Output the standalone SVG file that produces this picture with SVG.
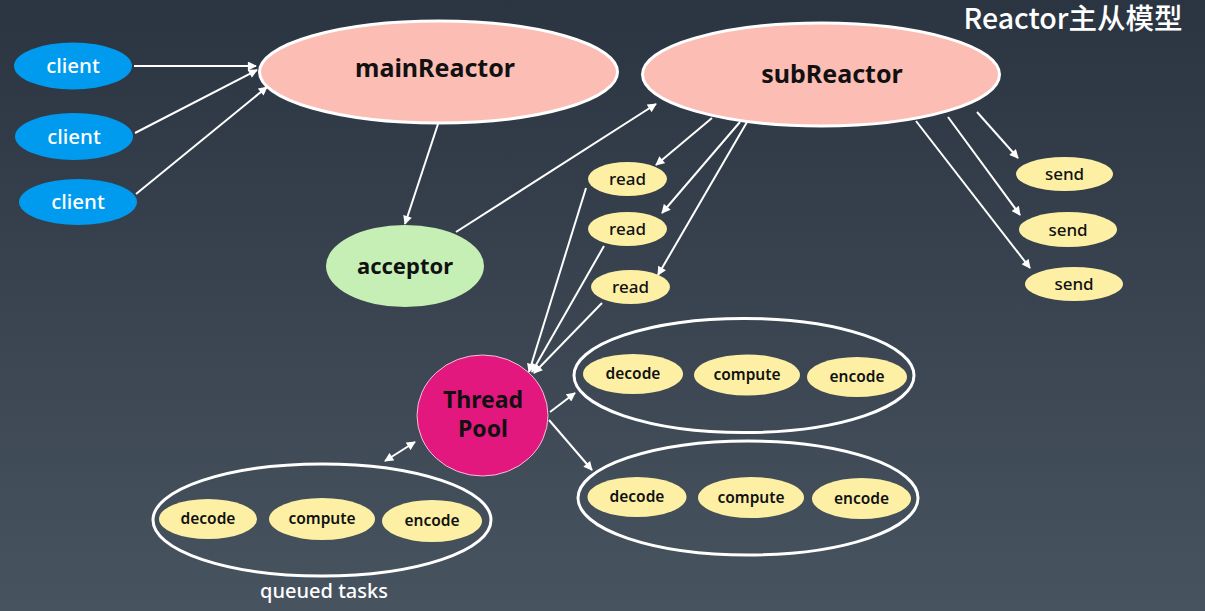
<svg xmlns="http://www.w3.org/2000/svg" width="1205" height="611" viewBox="0 0 1205 611">
<defs>
<linearGradient id="bg" x1="0" y1="0" x2="0" y2="1">
<stop offset="0" stop-color="#2b3541"/>
<stop offset="1" stop-color="#47535f"/>
</linearGradient>
<marker id="ah" viewBox="0 0 10 10" refX="9" refY="5" markerWidth="5" markerHeight="4.5" orient="auto-start-reverse" markerUnits="strokeWidth">
<path d="M0,0 L10,5 L0,10 z" fill="#ffffff"/>
</marker>
<style>
text{font-family:"Noto Sans","Open Sans","Liberation Sans",sans-serif;text-anchor:middle}
.big{font-size:25px;font-weight:700;fill:#111}
.cl{fill:#009bef}
.clt{font-size:20.5px;font-weight:500;fill:#fff}
.y{fill:#fdf0a5}
.yt{font-size:17px;font-weight:500;fill:#111}
.st{font-size:15.5px;font-weight:600;fill:#111}
.grp{fill:none;stroke:#fff;stroke-width:3}
.c line{stroke:#fff;stroke-width:2;marker-end:url(#ah)}
</style>
</defs>
<rect width="1205" height="611" fill="url(#bg)"/>
<text x="1073" y="29" style="font-family:'Noto Sans CJK SC','Noto Sans',sans-serif;font-size:28.5px;font-weight:500;fill:#fff">Reactor主从模型</text>

<g class="c" id="connectors">
<line x1="134" y1="66" x2="256" y2="66"/>
<line x1="135" y1="133" x2="257" y2="70"/>
<line x1="136" y1="194" x2="267" y2="87"/>
<line x1="438" y1="124" x2="405" y2="224"/>
<line x1="456" y1="232" x2="656" y2="104"/>
<line x1="712" y1="118" x2="656" y2="165"/>
<line x1="740" y1="122" x2="662" y2="213"/>
<line x1="747" y1="122" x2="658" y2="275"/>
<line x1="586" y1="188" x2="529" y2="372"/>
<line x1="604" y1="246" x2="532" y2="372"/>
<line x1="602" y1="303" x2="534" y2="373"/>
<line x1="977" y1="112" x2="1018" y2="158"/>
<line x1="948" y1="117" x2="1020" y2="215"/>
<line x1="916" y1="121" x2="1030" y2="268"/>
<line x1="550" y1="412" x2="575" y2="393"/>
<line x1="549" y1="420" x2="592" y2="470"/>
<line x1="385" y1="461" x2="415" y2="442" style="marker-start:url(#ah)"/>
</g>

<g id="client1"><ellipse class="cl" cx="73" cy="66" rx="59" ry="23.5"/><text class="clt" x="73" y="73">client</text></g>
<g id="client2"><ellipse class="cl" cx="74" cy="136.5" rx="59" ry="23.5"/><text class="clt" x="74" y="143.5">client</text></g>
<g id="client3"><ellipse class="cl" cx="78" cy="202" rx="59" ry="23"/><text class="clt" x="78" y="209">client</text></g>

<g id="mainReactor"><ellipse cx="438.5" cy="72" rx="179" ry="51" fill="#fcbdb4" stroke="#fff" stroke-width="3"/><text class="big" x="435" y="77">mainReactor</text></g>
<g id="subReactor"><ellipse cx="821" cy="74.5" rx="178.5" ry="51.5" fill="#fcbdb4" stroke="#fff" stroke-width="3"/><text class="big" x="832" y="83">subReactor</text></g>
<g id="acceptor"><ellipse cx="405" cy="266" rx="79" ry="41" fill="#c6efb6"/><text class="big" x="405" y="274" style="font-size:22px">acceptor</text></g>

<g id="read1"><ellipse class="y" cx="627.5" cy="179" rx="39.5" ry="17"/><text class="yt" x="627.5" y="185">read</text></g>
<g id="read2"><ellipse class="y" cx="627.5" cy="229" rx="39.5" ry="17"/><text class="yt" x="627.5" y="235">read</text></g>
<g id="read3"><ellipse class="y" cx="630.5" cy="287" rx="39.5" ry="17"/><text class="yt" x="630.5" y="293">read</text></g>

<g id="send1"><ellipse class="y" cx="1064.5" cy="174" rx="48.5" ry="17"/><text class="yt" x="1064.5" y="180">send</text></g>
<g id="send2"><ellipse class="y" cx="1068" cy="229.5" rx="49" ry="17.5"/><text class="yt" x="1068" y="235.5">send</text></g>
<g id="send3"><ellipse class="y" cx="1074" cy="284" rx="49" ry="17"/><text class="yt" x="1074" y="290">send</text></g>

<g id="threadPool"><ellipse cx="482.5" cy="415.5" rx="65.5" ry="60.5" fill="#e3187e" stroke="#f3c0d8" stroke-width="1"/><text class="big" x="483" y="408" style="font-size:23px">Thread</text><text class="big" x="483" y="437" style="font-size:23px">Pool</text></g>

<g id="group1">
<ellipse class="grp" cx="744" cy="375.5" rx="170" ry="57"/>
<ellipse class="y" cx="633" cy="374" rx="50" ry="20"/><text class="st" x="633" y="379">decode</text>
<ellipse class="y" cx="747" cy="375" rx="53" ry="20.5"/><text class="st" x="747" y="380">compute</text>
<ellipse class="y" cx="857" cy="377" rx="50" ry="20"/><text class="st" x="857" y="382">encode</text>
</g>
<g id="group2">
<ellipse class="grp" cx="748" cy="498" rx="170" ry="57"/>
<ellipse class="y" cx="637" cy="497" rx="49.5" ry="20"/><text class="st" x="637" y="502">decode</text>
<ellipse class="y" cx="751" cy="497.5" rx="53" ry="20.5"/><text class="st" x="751" y="502.5">compute</text>
<ellipse class="y" cx="861.5" cy="498.5" rx="49.5" ry="20.5"/><text class="st" x="861.5" y="503.5">encode</text>
</g>
<g id="queuedTasks">
<ellipse class="grp" cx="322" cy="520" rx="169" ry="56"/>
<ellipse class="y" cx="208" cy="519" rx="49" ry="20"/><text class="st" x="208" y="524">decode</text>
<ellipse class="y" cx="322" cy="519" rx="53" ry="21"/><text class="st" x="322" y="524">compute</text>
<ellipse class="y" cx="432" cy="521" rx="50" ry="21"/><text class="st" x="432" y="526">encode</text>
<text x="324" y="598" style="font-size:20px;font-weight:500;fill:#fff">queued tasks</text>
</g>
</svg>
